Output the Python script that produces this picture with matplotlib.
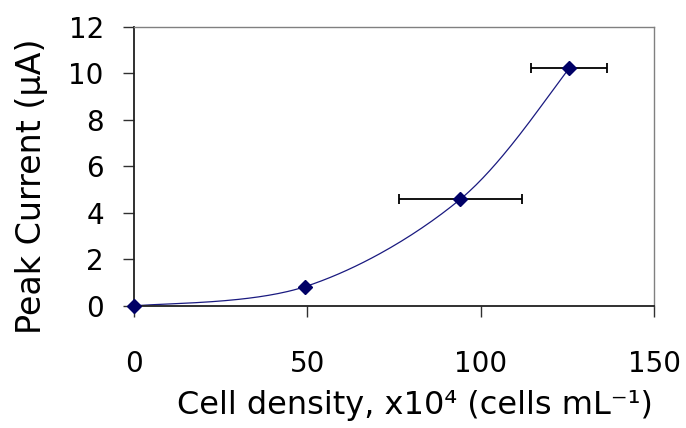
import numpy as np
import matplotlib
matplotlib.use("Agg")
import matplotlib.pyplot as plt

plt.rcParams['font.family'] = ['DejaVu Sans']
plt.rcParams['mathtext.fontset'] = 'dejavusans'

# Data
cell_density = [0, 49.3, 94.1, 125.5]
peak_current = [0, 0.83, 4.59, 10.21]
x_err = [0, 0, 17.8, 11.0]
x_ticks = [0, 50, 100, 150]
y_ticks = [0, 2, 4, 6, 8, 10, 12]


def excel_smooth(xs, ys, n=60):
    """Cubic Bezier smoothing through points (Catmull-Rom style, like Excel)."""
    P = np.column_stack([xs, ys]).astype(float)
    ext = np.vstack([P[0], P, P[-1]])
    out = []
    t = np.linspace(0, 1, n)[:, None]
    for i in range(len(P) - 1):
        p0, p1, p2, p3 = ext[i], ext[i + 1], ext[i + 2], ext[i + 3]
        c1 = p1 + (p2 - p0) / 6.0
        c2 = p2 - (p3 - p1) / 6.0
        seg = ((1 - t) ** 3) * p1 + 3 * ((1 - t) ** 2) * t * c1 + 3 * (1 - t) * t ** 2 * c2 + t ** 3 * p2
        out.append(seg if i == 0 else seg[1:])
    arr = np.vstack(out)
    return arr[:, 0], arr[:, 1]


W, H = 686, 428
fig = plt.figure(figsize=(W / 100, H / 100), dpi=100)
L, R, T, B = 134, 654.3, 26.7, 306
ax = fig.add_axes([L / W, 1 - B / H, (R - L) / W, (B - T) / H])

sx, sy = excel_smooth(cell_density, peak_current)
ax.plot(sx, sy, color='#1a1a80', lw=0.9, zorder=2, clip_on=False)
ax.errorbar(cell_density, peak_current, xerr=x_err, fmt='none', ecolor='black',
            elinewidth=1.3, capsize=3.5, capthick=1.3, zorder=3, clip_on=False)
ax.plot(cell_density, peak_current, linestyle='none', marker='D', markersize=7,
        color='#000066', zorder=4, clip_on=False)

ax.set_xlim(0, 150)
ax.set_ylim(0, 12)
ax.set_xticks(x_ticks)
ax.set_yticks(y_ticks)
ax.tick_params(axis='both', labelsize=20, length=7.7, width=1, color='#303030', direction='out')
ax.tick_params(axis='y', pad=14)
ax.tick_params(axis='x', pad=24)

for s in ['left', 'bottom']:
    ax.spines[s].set_color('#202020')
    ax.spines[s].set_linewidth(1.3)
for s in ['top', 'right']:
    ax.spines[s].set_color('#808080')
    ax.spines[s].set_linewidth(1.0)

ax.set_ylabel('Peak Current (µA)', fontsize=24)
ax.yaxis.set_label_coords((48 - L) / (R - L), (B - 186) / (B - T))
ax.set_xlabel('Cell density, x10⁴ (cells mL⁻¹)', fontsize=23)
ax.xaxis.set_label_coords((414.5 - L) / (R - L), -(390 - B) / (B - T))

fig.savefig('out.png', dpi=100)
